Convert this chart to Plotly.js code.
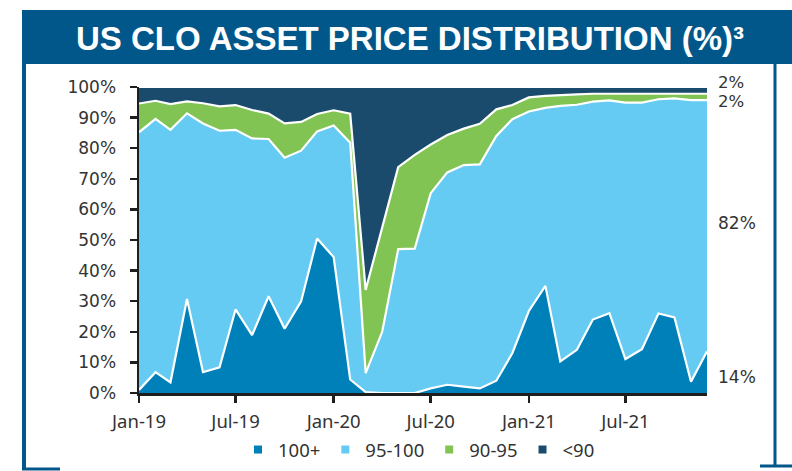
<!DOCTYPE html>
<html>
<head>
<meta charset="utf-8">
<script src="https://cdn.plot.ly/plotly-3.0.1.min.js"></script>
<style>
  html, body { margin: 0; padding: 0; background: #ffffff; }
  #chart { width: 792px; height: 471px; }
</style>
</head>
<body>
<div id="chart"></div>
<script>
// ---- Data (% of assets) ----
const months = [
  '2019-01-01','2019-02-01','2019-03-01','2019-04-01','2019-05-01','2019-06-01',
  '2019-07-01','2019-08-01','2019-09-01','2019-10-01','2019-11-01','2019-12-01',
  '2020-01-01','2020-02-01','2020-03-01','2020-04-01','2020-05-01','2020-06-01',
  '2020-07-01','2020-08-01','2020-09-01','2020-10-01','2020-11-01','2020-12-01',
  '2021-01-01','2021-02-01','2021-03-01','2021-04-01','2021-05-01','2021-06-01',
  '2021-07-01','2021-08-01','2021-09-01','2021-10-01','2021-11-01','2021-12-01'
];
const price100plus = [1.0, 6.8, 3.5, 30.7, 6.8, 8.4, 27.3, 18.9, 31.6, 21.0, 30.0, 50.5,
  44.4, 4.4, 0.3, 0.0, 0.0, 0.0, 1.5, 2.7, 2.1, 1.5, 4.0, 13.0,
  26.8, 35.0, 10.3, 14.1, 24.0, 26.1, 11.1, 14.3, 26.0, 24.7, 3.7, 13.6];
const price95to100 = [84.2, 82.8, 82.5, 60.7, 81.3, 77.3, 58.7, 64.3, 51.4, 55.9, 49.2, 35.0,
  43.0, 77.4, 6.2, 20.0, 47.0, 47.2, 63.8, 69.4, 72.4, 73.2, 80.0, 76.5,
  65.2, 58.2, 83.5, 80.1, 71.2, 69.5, 83.8, 80.6, 70.0, 71.6, 92.0, 82.1];
const price90to95 = [9.4, 5.9, 8.4, 3.9, 6.6, 8.0, 8.1, 9.3, 8.3, 11.2, 9.4, 5.7,
  5.0, 9.5, 27.2, 34.0, 26.8, 30.6, 15.9, 12.2, 11.9, 13.3, 8.7, 4.6,
  4.6, 3.9, 3.6, 3.4, 2.6, 2.2, 2.8, 2.8, 1.8, 1.5, 2.1, 2.1];
const priceBelow90 = [5.4, 4.5, 5.6, 4.7, 5.3, 6.3, 5.9, 7.5, 8.7, 11.9, 11.4, 8.8,
  7.6, 8.7, 66.3, 46.0, 26.2, 22.2, 18.8, 15.7, 13.6, 12.0, 7.3, 5.9,
  3.4, 2.9, 2.6, 2.4, 2.2, 2.2, 2.3, 2.3, 2.2, 2.2, 2.2, 2.2];

const seriesNames = ['100+', '95-100', '90-95', '<90'];
const tickDates = ['2019-01-01','2019-07-01','2020-01-01','2020-07-01','2021-01-01','2021-07-01'];
const tickLabels = ['Jan-19','Jul-19','Jan-20','Jul-20','Jan-21','Jul-21'];
const yTickVals = [0,10,20,30,40,50,60,70,80,90,100];
const yTickLabels = ['0%','10%','20%','30%','40%','50%','60%','70%','80%','90%','100%'];
const endLabels = ['2%', '2%', '82%', '14%'];

// ---- Styling ----
const colors = ['#0080B9', '#66CBF2', '#82C454', '#1B4B6C'];
const bannerColor = '#02578A';
const textColor = '#333333';
const axisColor = '#1e1e1e';

const seriesValues = [price100plus, price95to100, price90to95, priceBelow90];

const traces = seriesValues.map((vals, i) => ({
  type: 'scatter',
  mode: 'lines',
  x: months,
  y: vals,
  name: seriesNames[i],
  stackgroup: 'one',
  line: { color: '#ffffff', width: 2.2, shape: 'linear' },
  fillcolor: colors[i],
  showlegend: false,
  hoverinfo: 'skip'
}));

// legend entries: small squares
seriesNames.forEach((n, i) => {
  traces.push({
    type: 'scatter',
    mode: 'markers',
    x: [null],
    y: [null],
    name: n,
    marker: { symbol: 'square', size: 8, color: colors[i] },
    showlegend: true,
    hoverinfo: 'skip'
  });
});

// pixel -> paper helpers for the frame decoration
const L = 139, R = 85, T = 87, B = 78, W = 792 - L - R, H = 471 - T - B;
const px = v => (v - L) / W;
const py = v => (471 - B - v) / H;

// vertical pixel centres of the right-hand labels
const endLabelPx = [82.5, 101.5, 223, 377];

const annotations = endLabels.map((t, i) => ({
  text: t,
  xref: 'paper', yref: 'paper',
  x: px(716), y: py(endLabelPx[i]),
  xanchor: 'left', yanchor: 'middle',
  showarrow: false,
  font: { family: 'DejaVu Sans', size: i < 2 ? 16.5 : 17, color: textColor }
}));

const layout = {
  width: 792,
  height: 471,
  margin: { l: L, r: R, t: T, b: B, pad: 0, autoexpand: false },
  paper_bgcolor: '#ffffff',
  plot_bgcolor: '#ffffff',
  title: {
    text: '<b>US CLO ASSET PRICE DISTRIBUTION (%)³</b>',
    font: { family: 'Liberation Sans, Arial, sans-serif', size: 33, color: '#ffffff' },
    xref: 'container', yref: 'container',
    x: 410 / 792, xanchor: 'center',
    y: 1 - 38 / 471, yanchor: 'middle'
  },
  xaxis: {
    type: 'date',
    range: [months[0], months[months.length - 1]],
    tickmode: 'array',
    tickvals: tickDates,
    ticktext: tickLabels,
    showgrid: false,
    zeroline: false,
    showline: true,
    linecolor: axisColor,
    linewidth: 2.5,
    ticks: 'outside',
    ticklen: 7,
    tickwidth: 2.5,
    tickcolor: axisColor,
    ticklabelstandoff: 3,
    tickfont: { family: 'Noto Sans, sans-serif', size: 18.5, color: textColor },
    automargin: false,
    fixedrange: true
  },
  yaxis: {
    range: [0, 100],
    tickmode: 'array',
    tickvals: yTickVals,
    ticktext: yTickLabels,
    showgrid: false,
    zeroline: false,
    showline: true,
    linecolor: axisColor,
    linewidth: 2.5,
    ticks: 'outside',
    ticklen: 7,
    tickwidth: 2.5,
    tickcolor: axisColor,
    ticklabelstandoff: 10,
    tickfont: { family: 'DejaVu Sans, sans-serif', size: 17, color: textColor },
    automargin: false,
    fixedrange: true
  },
  legend: {
    orientation: 'h',
    traceorder: 'normal',
    x: px(419), xanchor: 'center',
    y: py(431), yanchor: 'top',
    font: { family: 'Noto Sans, sans-serif', size: 18.5, color: textColor },
    itemwidth: 30,
    bgcolor: 'rgba(0,0,0,0)'
  },
  annotations: annotations,
  shapes: [
    { type: 'rect', xref: 'paper', yref: 'paper', layer: 'below',
      x0: px(22), x1: px(792), y0: py(64), y1: py(10),
      fillcolor: bannerColor, line: { width: 0 } },
    { type: 'line', xref: 'paper', yref: 'paper', layer: 'below',
      x0: px(24), x1: px(24), y0: py(64), y1: py(470),
      line: { color: bannerColor, width: 4 } },
    { type: 'line', xref: 'paper', yref: 'paper', layer: 'below',
      x0: px(775), x1: px(775), y0: py(64), y1: py(466),
      line: { color: bannerColor, width: 3 } },
    { type: 'line', xref: 'paper', yref: 'paper', layer: 'below',
      x0: px(22), x1: px(60), y0: py(469), y1: py(469),
      line: { color: bannerColor, width: 3 } },
    { type: 'line', xref: 'paper', yref: 'paper', layer: 'below',
      x0: px(760), x1: px(792), y0: py(466), y1: py(466),
      line: { color: bannerColor, width: 3 } }
  ],
  showlegend: true,
  hovermode: false
};

Plotly.newPlot('chart', traces, layout, { displayModeBar: false, staticPlot: true });
</script>
</body>
</html>
